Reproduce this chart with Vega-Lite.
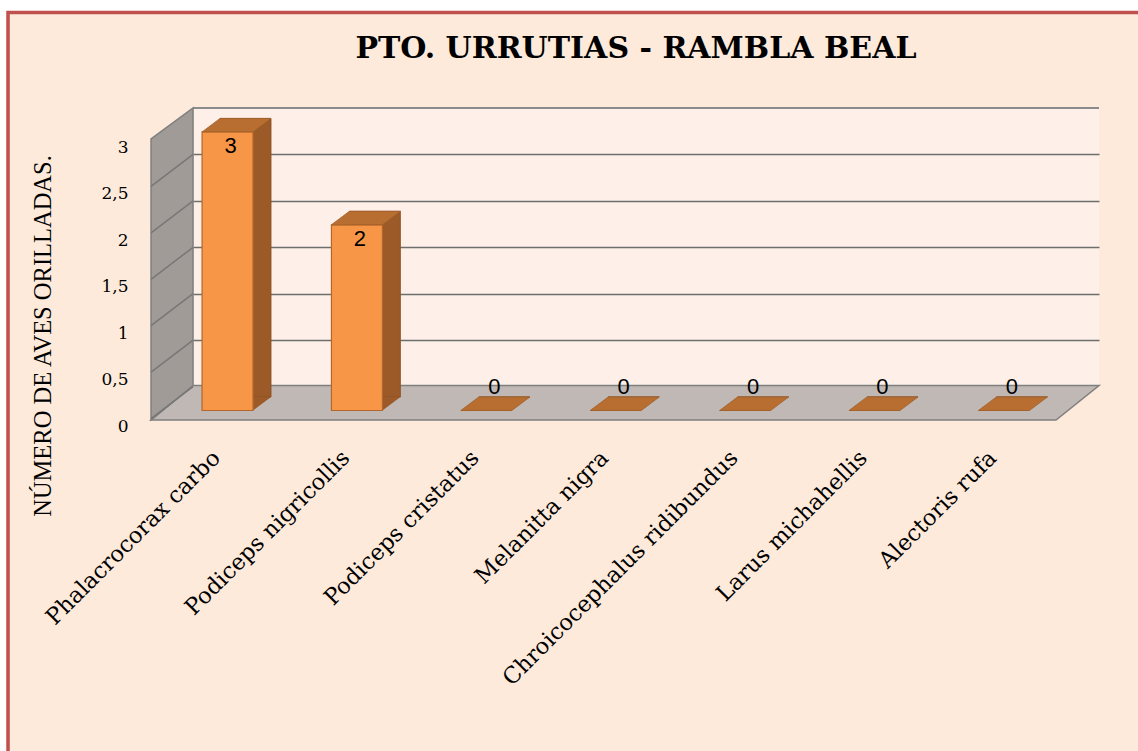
{
  "$schema": "https://vega.github.io/schema/vega-lite/v6.json",
  "width": 906,
  "height": 325,
  "autosize": {"type": "none"},
  "padding": {"left": 193, "top": 108, "right": 39, "bottom": 318},
  "background": "#FDEADB",
  "title": {
    "text": "PTO. URRUTIAS - RAMBLA BEAL",
    "font": "DejaVu Serif",
    "fontSize": 30,
    "fontWeight": "bold",
    "color": "#000000",
    "anchor": "middle",
    "frame": "group",
    "baseline": "alphabetic",
    "dx": -10,
    "offset": -88
  },
  "config": {
    "view": {"fill": "#FEF0E9", "stroke": "#8C8C8C", "strokeWidth": 2, "strokeDash": [906, 3000]},
    "axis": {"domain": false, "ticks": false}
  },
  "data": {
    "values": [
      {"especie": "Phalacrocorax carbo", "aves": 3},
      {"especie": "Podiceps nigricollis", "aves": 2},
      {"especie": "Podiceps cristatus", "aves": 0},
      {"especie": "Melanitta nigra", "aves": 0},
      {"especie": "Chroicocephalus ridibundus", "aves": 0},
      {"especie": "Larus michahellis", "aves": 0},
      {"especie": "Alectoris rufa", "aves": 0}
    ]
  },
  "layer": [
    {
      "data": {"values": [{}]},
      "mark": {"type": "point", "shape": "M-227.5,-433 L910.5,-433 L910.5,-422 L-221.5,-422 L-221.5,318 L-227.5,318 Z", "size": 4, "filled": true, "fill": "#FFFFFF", "strokeWidth": 0, "opacity": 1},
      "encoding": {"x": {"datum": "Phalacrocorax carbo", "type": "nominal"}, "y": {"datum": 0, "type": "quantitative"}}
    },
    {
      "data": {"values": [{}]},
      "mark": {"type": "point", "shape": "M-219.5,318 L-219.5,-420.5 L912,-420.5", "size": 4, "filled": false, "fill": null, "stroke": "#C0504D", "strokeWidth": 3.5, "opacity": 1},
      "encoding": {"x": {"datum": "Phalacrocorax carbo", "type": "nominal"}, "y": {"datum": 0, "type": "quantitative"}}
    },
    {
      "data": {"values": [{}]},
      "mark": {"type": "point", "shape": "M828.5,-13 L871.5,-47.5 L875,-47.5 L875,2 L-76.5,2 L-76.5,-13 Z", "size": 4, "filled": true, "fill": "#FDEADB", "strokeWidth": 0, "opacity": 1},
      "encoding": {"x": {"datum": "Phalacrocorax carbo", "type": "nominal"}, "y": {"datum": 0, "type": "quantitative"}}
    },
    {
      "data": {"values": [{}]},
      "mark": {"type": "point", "shape": "M-76.5,-13 L828.5,-13 L871.5,-47.5 L-34.5,-47.5 Z", "size": 4, "filled": true, "fill": "#C0B8B4", "stroke": "#7F7F7F", "strokeWidth": 1.5, "opacity": 1},
      "encoding": {"x": {"datum": "Phalacrocorax carbo", "type": "nominal"}, "y": {"datum": 0, "type": "quantitative"}}
    },
    {
      "data": {"values": [{}]},
      "mark": {"type": "point", "shape": "M-76.5,-13 L-76.5,-294 L-34.5,-325 L-34.5,-47.5 Z", "size": 4, "filled": true, "fill": "#A19B97", "stroke": "#7F7F7F", "strokeWidth": 1.5, "opacity": 1},
      "encoding": {"x": {"datum": "Phalacrocorax carbo", "type": "nominal"}, "y": {"datum": 0, "type": "quantitative"}}
    },
    {
      "data": {"values": [{"v": 0.5}, {"v": 1}, {"v": 1.5}, {"v": 2}, {"v": 2.5}, {"v": 3}]},
      "mark": {"type": "point", "shape": "M-34.5,0 L-76.5,32", "size": 4, "filled": false, "fill": null, "stroke": "#777777", "strokeWidth": 1.5, "opacity": 1},
      "encoding": {"x": {"datum": "Phalacrocorax carbo", "type": "nominal"}, "y": {"field": "v", "type": "quantitative"}}
    },
    {
      "mark": {"type": "bar", "fill": "#9B5A27", "stroke": "#8A4F22", "strokeWidth": 0.8, "xOffset": 18, "yOffset": -36, "y2Offset": -36},
      "encoding": {
        "x": {
          "field": "especie",
          "type": "nominal",
          "sort": null,
          "scale": {"paddingInner": 0.606, "paddingOuter": 0.304, "align": 0.115},
          "axis": {
            "title": null,
            "labelAngle": -45,
            "labelAlign": "right",
            "labelBaseline": "middle",
            "labelFont": "DejaVu Serif",
            "labelFontSize": 22.5,
            "labelColor": "#000000",
            "labelPadding": 21,
            "labelOffset": -11,
            "labelLimit": 500,
            "grid": false
          }
        },
        "y": {
          "field": "aves",
          "type": "quantitative",
          "scale": {"domain": [0, 3.5], "nice": false, "zero": true},
          "axis": {
            "values": [0, 0.5, 1, 1.5, 2, 2.5, 3],
            "labelExpr": "replace(format(datum.value, '~g'), '.', ',')",
            "labelFont": "DejaVu Serif",
            "labelFontSize": 17,
            "labelColor": "#000000",
            "labelPadding": 65,
            "labelOffset": -7,
            "grid": true,
            "gridColor": "#6E6E6E",
            "gridWidth": 1.5,
            "gridOpacity": {"condition": {"test": "datum.value === 0", "value": 0}, "value": 1},
            "title": "NÚMERO DE AVES ORILLADAS.",
            "titleFont": "Liberation Serif",
            "titleFontSize": 24.5,
            "titleFontWeight": "normal",
            "titleColor": "#000000",
            "titleAngle": -90,
            "titleAlign": "center",
            "titleBaseline": "alphabetic",
            "titleX": -143,
            "titleY": 227.5
          }
        },
        "y2": {"datum": 0}
      }
    },
    {
      "transform": [{"filter": "datum.aves > 0"}],
      "mark": {"type": "point", "shape": "M25.5,0 L25.5,-13.5 L43.5,-13.5 Z", "size": 4, "filled": true, "fill": "#9B5A27", "strokeWidth": 0, "opacity": 1, "yOffset": -22.5},
      "encoding": {"x": {"field": "especie", "type": "nominal", "sort": null}, "y": {"datum": 0, "type": "quantitative"}}
    },
    {
      "mark": {"type": "bar", "fill": "#F79646", "stroke": "#B4672C", "strokeWidth": 1.2, "yOffset": -22.5, "y2Offset": -22.5},
      "encoding": {
        "x": {"field": "especie", "type": "nominal", "sort": null},
        "y": {"field": "aves", "type": "quantitative"},
        "y2": {"datum": 0}
      }
    },
    {
      "mark": {"type": "point", "shape": "M-25.5,0 L25.5,0 L43.5,-13.5 L-7.5,-13.5 Z", "size": 4, "filled": true, "fill": "#B86E31", "stroke": "#A05F28", "strokeWidth": 0.8, "opacity": 1, "yOffset": -22.5},
      "encoding": {"x": {"field": "especie", "type": "nominal", "sort": null}, "y": {"field": "aves", "type": "quantitative"}}
    },
    {
      "transform": [{"filter": "datum.aves > 0"}],
      "mark": {"type": "text", "font": "Liberation Sans", "fontSize": 22, "color": "#000000", "baseline": "middle", "align": "center", "dx": 3, "dy": -8},
      "encoding": {"x": {"field": "especie", "type": "nominal", "sort": null}, "y": {"field": "aves", "type": "quantitative"}, "text": {"field": "aves", "type": "quantitative"}}
    },
    {
      "transform": [{"filter": "datum.aves == 0"}],
      "mark": {"type": "text", "font": "Liberation Sans", "fontSize": 22, "color": "#000000", "baseline": "middle", "align": "center", "dx": 8, "dy": -46},
      "encoding": {"x": {"field": "especie", "type": "nominal", "sort": null}, "y": {"field": "aves", "type": "quantitative"}, "text": {"field": "aves", "type": "quantitative"}}
    }
  ]
}
